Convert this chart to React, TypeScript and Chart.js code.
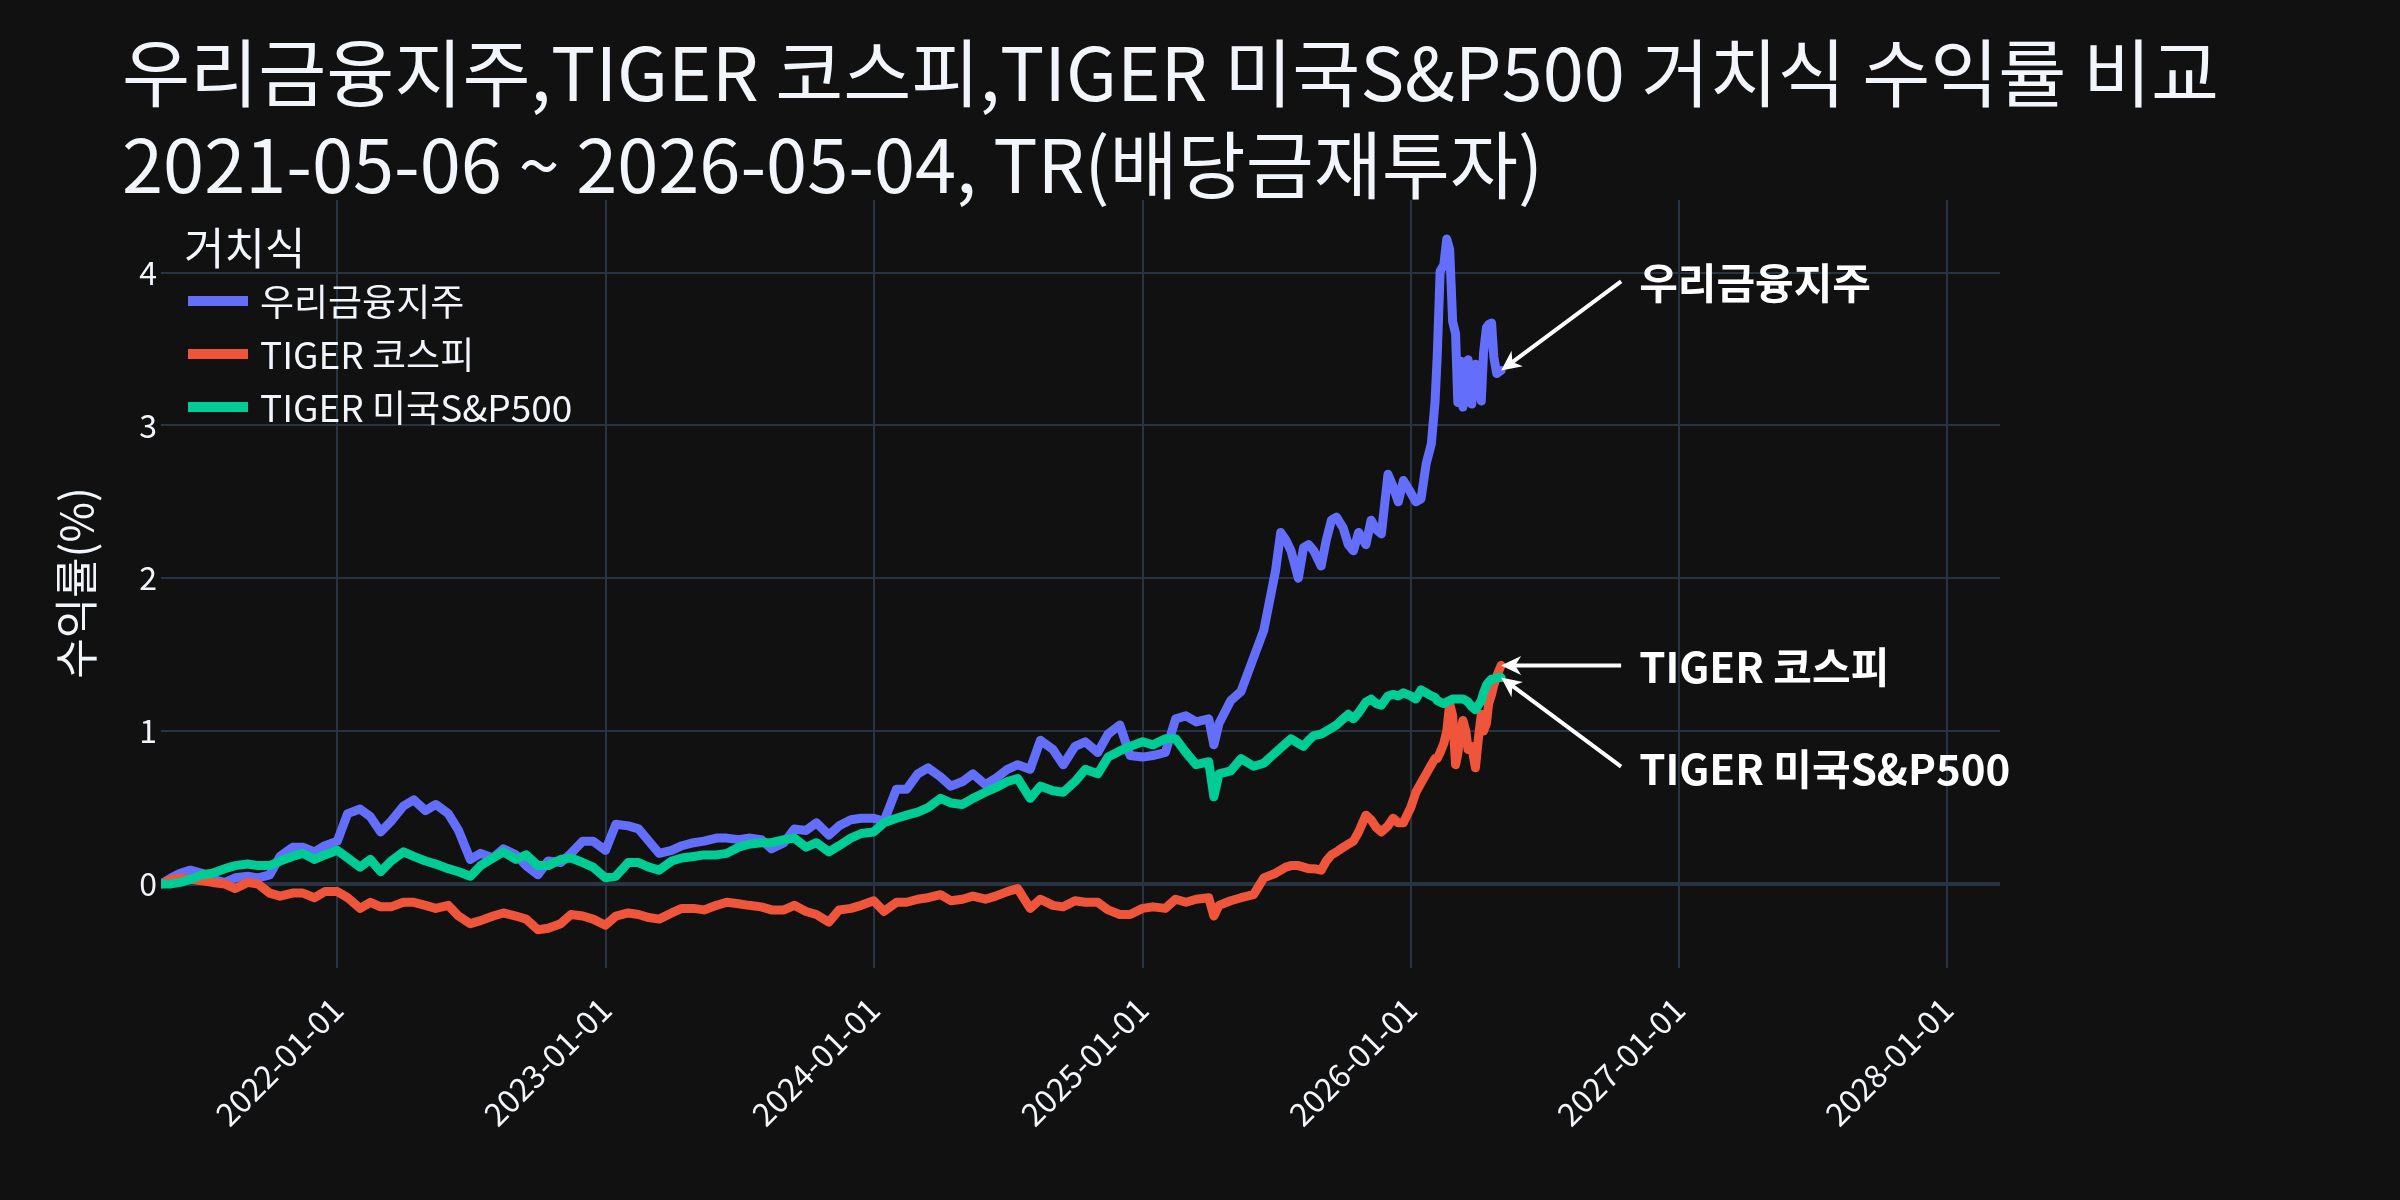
import React, { useEffect, useRef } from 'react';
import { Chart, registerables } from 'chart.js';

Chart.register(...registerables);

// sample dates (semi-monthly, weekly where the lines move fast)
const dates = [
  '2021-05-06', '2021-05-20', '2021-06-01', '2021-06-15', '2021-07-01', '2021-07-15', '2021-08-01', '2021-08-15',
  '2021-09-01', '2021-09-15', '2021-10-01', '2021-10-15', '2021-11-01', '2021-11-15', '2021-12-01', '2021-12-15',
  '2022-01-01', '2022-01-15', '2022-02-01', '2022-02-15', '2022-03-01', '2022-03-15', '2022-04-01', '2022-04-15',
  '2022-05-01', '2022-05-15', '2022-06-01', '2022-06-15', '2022-07-01', '2022-07-15', '2022-08-01', '2022-08-15',
  '2022-09-01', '2022-09-15', '2022-10-01', '2022-10-15', '2022-11-01', '2022-11-15', '2022-12-01', '2022-12-15',
  '2023-01-01', '2023-01-15', '2023-02-01', '2023-02-15', '2023-03-01', '2023-03-15', '2023-04-01', '2023-04-15',
  '2023-05-01', '2023-05-15', '2023-06-01', '2023-06-15', '2023-07-01', '2023-07-15', '2023-08-01', '2023-08-15',
  '2023-09-01', '2023-09-15', '2023-10-01', '2023-10-15', '2023-11-01', '2023-11-15', '2023-12-01', '2023-12-15',
  '2024-01-01', '2024-01-15', '2024-02-01', '2024-02-15', '2024-03-01', '2024-03-15', '2024-04-01', '2024-04-15',
  '2024-05-01', '2024-05-15', '2024-06-01', '2024-06-15', '2024-07-01', '2024-07-15', '2024-08-01', '2024-08-15',
  '2024-09-01', '2024-09-15', '2024-10-01', '2024-10-15', '2024-11-01', '2024-11-15', '2024-12-01', '2024-12-15',
  '2025-01-01', '2025-01-15', '2025-02-01', '2025-02-15', '2025-03-01', '2025-03-15', '2025-04-01', '2025-04-08',
  '2025-04-15', '2025-05-01', '2025-05-15', '2025-06-01', '2025-06-15', '2025-07-01', '2025-07-08', '2025-07-15',
  '2025-07-22', '2025-08-01', '2025-08-08', '2025-08-15', '2025-08-22', '2025-09-01', '2025-09-08', '2025-09-15',
  '2025-09-22', '2025-10-01', '2025-10-08', '2025-10-15', '2025-10-22', '2025-11-01', '2025-11-08', '2025-11-15',
  '2025-11-22', '2025-12-01', '2025-12-08', '2025-12-15', '2025-12-22', '2026-01-01', '2026-01-08', '2026-01-15',
  '2026-01-22', '2026-01-29', '2026-02-03', '2026-02-06', '2026-02-10', '2026-02-15', '2026-02-19', '2026-02-23',
  '2026-02-27', '2026-03-03', '2026-03-06', '2026-03-10', '2026-03-13', '2026-03-17', '2026-03-20', '2026-03-25',
  '2026-03-30', '2026-04-03', '2026-04-07', '2026-04-10', '2026-04-14', '2026-04-17', '2026-04-21', '2026-04-24',
  '2026-04-28', '2026-05-04',
];

const woori = [
  0.00, 0.04, 0.07, 0.09, 0.07, 0.03, 0.01, 0.04,
  0.05, 0.04, 0.06, 0.18, 0.24, 0.24, 0.21, 0.25,
  0.28, 0.46, 0.49, 0.44, 0.34, 0.41, 0.51, 0.55,
  0.48, 0.52, 0.46, 0.35, 0.16, 0.20, 0.17, 0.23,
  0.19, 0.12, 0.06, 0.15, 0.14, 0.20, 0.28, 0.28,
  0.22, 0.39, 0.38, 0.36, 0.28, 0.20, 0.22, 0.25,
  0.27, 0.28, 0.30, 0.30, 0.29, 0.30, 0.29, 0.23,
  0.27, 0.36, 0.35, 0.40, 0.32, 0.38, 0.42, 0.43,
  0.43, 0.41, 0.62, 0.62, 0.72, 0.76, 0.70, 0.64,
  0.67, 0.72, 0.65, 0.69, 0.75, 0.78, 0.75, 0.94,
  0.88, 0.78, 0.90, 0.93, 0.86, 0.98, 1.04, 0.84,
  0.83, 0.84, 0.86, 1.08, 1.10, 1.06, 1.08, 0.91,
  1.05, 1.20, 1.26, 1.48, 1.66, 2.05, 2.30, 2.25,
  2.18, 2.00, 2.20, 2.22, 2.18, 2.08, 2.25, 2.38,
  2.40, 2.33, 2.22, 2.18, 2.30, 2.22, 2.38, 2.32,
  2.29, 2.68, 2.60, 2.50, 2.64, 2.56, 2.50, 2.52,
  2.75, 2.88, 3.15, 3.45, 4.01, 4.05, 4.22, 4.15,
  3.68, 3.60, 3.15, 3.42, 3.12, 3.30, 3.43, 3.14,
  3.40, 3.30, 3.16, 3.47, 3.64, 3.66, 3.67, 3.45,
  3.34, 3.36,
];

const kospi = [
  0.00, 0.03, 0.04, 0.03, 0.02, 0.01, 0.00, -0.03,
  0.01, 0.00, -0.06, -0.08, -0.06, -0.06, -0.09, -0.05,
  -0.05, -0.09, -0.16, -0.12, -0.15, -0.15, -0.12, -0.12,
  -0.14, -0.16, -0.14, -0.21, -0.26, -0.24, -0.21, -0.19,
  -0.21, -0.23, -0.30, -0.29, -0.26, -0.20, -0.21, -0.23,
  -0.27, -0.21, -0.19, -0.20, -0.22, -0.23, -0.19, -0.16,
  -0.16, -0.17, -0.14, -0.12, -0.13, -0.14, -0.15, -0.17,
  -0.17, -0.14, -0.18, -0.20, -0.25, -0.17, -0.16, -0.14,
  -0.11, -0.18, -0.12, -0.12, -0.10, -0.09, -0.07, -0.11,
  -0.10, -0.08, -0.10, -0.08, -0.05, -0.03, -0.16, -0.10,
  -0.14, -0.15, -0.11, -0.12, -0.12, -0.17, -0.20, -0.20,
  -0.16, -0.15, -0.16, -0.10, -0.12, -0.10, -0.09, -0.21,
  -0.14, -0.11, -0.09, -0.07, 0.04, 0.07, 0.09, 0.11,
  0.12, 0.12, 0.11, 0.10, 0.10, 0.09, 0.15, 0.19,
  0.21, 0.24, 0.26, 0.28, 0.34, 0.45, 0.42, 0.37,
  0.34, 0.38, 0.43, 0.40, 0.40, 0.50, 0.60, 0.66,
  0.72, 0.78, 0.82, 0.82, 0.86, 0.92, 1.00, 1.18,
  1.10, 0.78, 0.85, 1.00, 1.07, 1.00, 0.88, 0.90,
  0.76, 0.95, 1.11, 1.00, 1.05, 1.18, 1.24, 1.30,
  1.36, 1.43,
];

const snp = [
  0.00, 0.00, 0.01, 0.03, 0.06, 0.07, 0.10, 0.12,
  0.13, 0.12, 0.12, 0.15, 0.18, 0.20, 0.16, 0.19,
  0.22, 0.17, 0.11, 0.16, 0.08, 0.15, 0.21, 0.18,
  0.15, 0.13, 0.10, 0.08, 0.05, 0.12, 0.17, 0.21,
  0.16, 0.19, 0.12, 0.12, 0.16, 0.17, 0.14, 0.11,
  0.04, 0.05, 0.14, 0.14, 0.11, 0.09, 0.15, 0.17,
  0.18, 0.19, 0.19, 0.20, 0.24, 0.26, 0.27, 0.27,
  0.29, 0.30, 0.24, 0.27, 0.21, 0.25, 0.30, 0.33,
  0.34, 0.40, 0.43, 0.45, 0.47, 0.50, 0.56, 0.53,
  0.52, 0.56, 0.60, 0.63, 0.67, 0.69, 0.56, 0.64,
  0.61, 0.60, 0.67, 0.75, 0.72, 0.83, 0.87, 0.90,
  0.93, 0.91, 0.95, 0.95, 0.86, 0.78, 0.80, 0.57,
  0.72, 0.74, 0.82, 0.77, 0.79, 0.86, 0.89, 0.92,
  0.95, 0.92, 0.90, 0.94, 0.97, 0.98, 1.00, 1.02,
  1.04, 1.08, 1.11, 1.08, 1.12, 1.19, 1.21, 1.18,
  1.17, 1.23, 1.24, 1.23, 1.25, 1.23, 1.21, 1.27,
  1.25, 1.23, 1.22, 1.20, 1.19, 1.18, 1.19, 1.20,
  1.21, 1.21, 1.21, 1.21, 1.21, 1.20, 1.19, 1.16,
  1.14, 1.17, 1.20, 1.25, 1.30, 1.32, 1.34, 1.34,
  1.35, 1.35,
];

const seriesNames = ['우리금융지주', 'TIGER 코스피', 'TIGER 미국S&P500'];
const seriesColors = ['#636efa', '#EF553B', '#00cc96'];
const labelOffsets = [-89, 0, 89];

const titleLines = ['우리금융지주,TIGER 코스피,TIGER 미국S&P500 거치식 수익률 비교', '2021-05-06 ~ 2026-05-04, TR(배당금재투자)'];
const legendTitle = '거치식';
const yTitle = '수익률(%)';

const yTicks = [0, 1, 2, 3, 4];
const xTickDates = ['2022-01-01', '2023-01-01', '2024-01-01', '2025-01-01', '2026-01-01', '2027-01-01', '2028-01-01'];
const xRange = ['2021-05-06', '2028-03-13'];
const yRange = [-0.55, 4.475];

const FONT = '"Noto Sans CJK KR", "Noto Sans", sans-serif';
const TEXT = '#f2f5fa';
const GRID = '#283442';
const BG = '#111111';

const toTime = (d: string) => Date.parse(d);

function drawArrow(ctx: CanvasRenderingContext2D, x0: number, y0: number, x1: number, y1: number) {
  const ang = Math.atan2(y1 - y0, x1 - x0);
  const len = 20;
  const half = 9.5;
  const notch = 6;
  ctx.save();
  ctx.strokeStyle = '#ffffff';
  ctx.fillStyle = '#ffffff';
  ctx.lineWidth = 4;
  ctx.beginPath();
  ctx.moveTo(x0, y0);
  ctx.lineTo(x1 - (len - notch) * Math.cos(ang), y1 - (len - notch) * Math.sin(ang));
  ctx.stroke();
  ctx.translate(x1, y1);
  ctx.rotate(ang);
  ctx.beginPath();
  ctx.moveTo(0, 0);
  ctx.lineTo(-len, -half);
  ctx.lineTo(-len + notch, 0);
  ctx.lineTo(-len, half);
  ctx.closePath();
  ctx.fill();
  ctx.restore();
}

const decorPlugin = {
  id: 'decor',
  beforeDraw(chart: any) {
    const { ctx, width, height } = chart;
    ctx.save();
    ctx.fillStyle = BG;
    ctx.fillRect(0, 0, width, height);
    ctx.restore();
  },
  afterDraw(chart: any) {
    const { ctx } = chart;
    ctx.save();

    // title
    ctx.fillStyle = TEXT;
    ctx.textAlign = 'left';
    ctx.textBaseline = 'alphabetic';
    ctx.font = `74px ${FONT}`;
    ctx.fillText(titleLines[0], 122, 101);
    ctx.fillText(titleLines[1], 122, 193);

    // legend
    ctx.textBaseline = 'middle';
    ctx.font = `44px ${FONT}`;
    ctx.fillText(legendTitle, 184, 248);
    ctx.font = `37px ${FONT}`;
    seriesNames.forEach((name, i) => {
      const y = 301 + i * 53;
      ctx.strokeStyle = seriesColors[i];
      ctx.lineWidth = 10;
      ctx.beginPath();
      ctx.moveTo(188, y);
      ctx.lineTo(248, y);
      ctx.stroke();
      ctx.fillStyle = TEXT;
      ctx.fillText(name, 260, y + 1);
    });

    // y axis title
    ctx.save();
    ctx.translate(76, 583);
    ctx.rotate(-Math.PI / 2);
    ctx.textAlign = 'center';
    ctx.font = `44px ${FONT}`;
    ctx.fillText(yTitle, 0, 0);
    ctx.restore();

    // end-of-line annotations
    const xs = chart.scales.x;
    const ys = chart.scales.y;
    ctx.font = `bold 42px ${FONT}`;
    ctx.textAlign = 'left';
    ctx.fillStyle = '#ffffff';
    chart.data.datasets.forEach((ds: any, i: number) => {
      const last = ds.data[ds.data.length - 1];
      const tx = xs.getPixelForValue(last.x);
      const ty = ys.getPixelForValue(last.y);
      const ax = tx + 120;
      const ay = ty + labelOffsets[i];
      drawArrow(ctx, ax, ay, tx, ty);
      ctx.fillText(seriesNames[i], tx + 138, ay + 2);
    });

    ctx.restore();
  },
};

const App: React.FC = () => {
  const chartRef = useRef<HTMLCanvasElement | null>(null);

  useEffect(() => {
    document.body.style.margin = '0';
    document.body.style.background = BG;
    if (!chartRef.current) return;

    const series = [woori, kospi, snp];
    const datasets = series.map((vals, i) => ({
      label: seriesNames[i],
      data: vals.map((v, j) => ({ x: toTime(dates[j]), y: v })),
      borderColor: seriesColors[i],
      backgroundColor: seriesColors[i],
      borderWidth: 9,
      pointRadius: 0,
      tension: 0,
      borderJoinStyle: 'round' as const,
      borderCapStyle: 'round' as const,
      fill: false,
      order: 2 - i,
    }));

    const chart = new Chart(chartRef.current, {
      type: 'line',
      data: { datasets },
      options: {
        animation: false,
        responsive: false,
        devicePixelRatio: 1,
        layout: { padding: { left: 0, top: 200, right: 400, bottom: 0 } },
        plugins: {
          legend: { display: false },
          tooltip: { enabled: false },
          title: { display: false },
        },
        scales: {
          x: {
            type: 'linear',
            min: toTime(xRange[0]),
            max: toTime(xRange[1]),
            afterBuildTicks: (scale: any) => {
              scale.ticks = xTickDates.map((d) => ({ value: toTime(d) }));
            },
            afterFit: (scale: any) => {
              scale.height = 232;
            },
            ticks: {
              autoSkip: false,
              minRotation: 45,
              maxRotation: 45,
              padding: 22,
              color: TEXT,
              font: { family: FONT, size: 32 },
              callback: (v: any) => new Date(Number(v)).toISOString().slice(0, 10),
            },
            grid: { color: GRID, lineWidth: 2, drawTicks: false },
            border: { display: false },
          },
          y: {
            min: yRange[0],
            max: yRange[1],
            afterBuildTicks: (scale: any) => {
              scale.ticks = yTicks.map((v) => ({ value: v }));
            },
            afterFit: (scale: any) => {
              scale.width = 161;
            },
            ticks: {
              padding: 4,
              color: TEXT,
              font: { family: FONT, size: 32 },
              callback: (v: any) => String(v),
            },
            grid: {
              color: GRID,
              lineWidth: (c: any) => (c.tick && c.tick.value === 0 ? 4 : 2),
              drawTicks: false,
            },
            border: { display: false },
          },
        },
      },
      plugins: [decorPlugin],
    });

    return () => {
      chart.destroy();
    };
  }, []);

  return (
    <div style={{ width: '2400px', height: '1200px', overflow: 'hidden', background: BG }}>
      <canvas ref={chartRef} width={2400} height={1200} style={{ display: 'block' }} />
    </div>
  );
};

export default App;
